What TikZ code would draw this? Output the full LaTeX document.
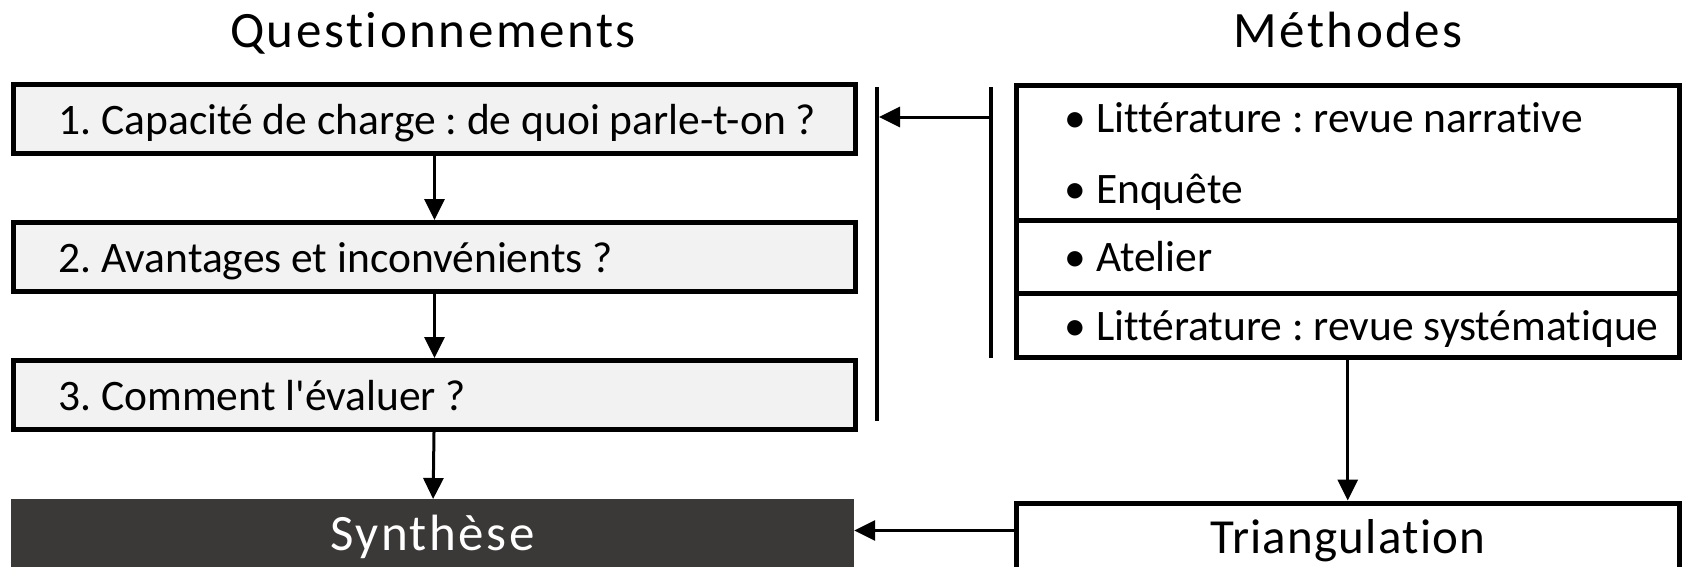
\documentclass[tikz,border=0pt]{standalone}
\usepackage{fontspec}
\setmainfont{Carlito}[Ligatures={NoCommon}]
\newfontfamily\widefont[LetterSpace=5, Ligatures={NoCommon}]{Carlito}
\newfontfamily\trifont[LetterSpace=2.5, Ligatures={NoCommon}]{Carlito}
\usetikzlibrary{arrows.meta}
\frenchspacing
% back to the font's own word spaces inside left-aligned nodes
\newcommand\tightwords{\spaceskip=0pt\xspaceskip=0pt\relax}

\definecolor{qgray}{RGB}{242,242,242}
\definecolor{synthgray}{RGB}{59,56,56}

\tikzset{
	qbox/.style={draw, line width=5pt, fill=qgray, text width=752pt, inner xsep=45pt, minimum height=69pt, align=left, text height=30pt, text depth=0pt, font=\fontsize{43.5}{52}\selectfont, execute at begin node=\tightwords},
	mbox/.style={draw, line width=5pt, text width=566.5pt, inner xsep=48pt, align=left, text height=30pt, text depth=0pt, font=\fontsize{43.5}{71}\selectfont, execute at begin node=\tightwords},
	titletext/.style={font=\widefont\fontsize{51}{60}\selectfont},
	conn/.style={line width=3pt, -{Triangle[length=21pt,width=20pt]}},
	bar/.style={line width=4pt}
}

\begin{document}
\begin{tikzpicture}[x=1pt, y=-1pt]
	\useasboundingbox (0,0) rectangle (1684,566);
	
	% titles
	\node[titletext, anchor=base] (tquest) at (433,47) {Questionnements};
	\node[titletext, anchor=base] (tmeth) at (1348,47) {Méthodes};
	
	% questions
	\node[qbox] (q1) at (434.5,119) {\mbox{1. Capacité de charge : de quoi parle-t-on ?}};
	\node[qbox] (q2) at (434.5,257) {2. Avantages et inconvénients ?};
	\node[qbox] (q3) at (434.5,395) {3. Comment l\textquotesingle évaluer ?};
	\draw[conn] (q1) -- (q2);
	\draw[conn] (q2) -- (q3);
	
	% synthese
	\node[fill=synthgray, text=white, titletext, anchor=north, minimum width=843pt, minimum height=90pt, text height=33pt, text depth=21pt] (synth) at (432.5,499) {Synthèse};
	\draw[conn] (q3) -- (synth);
	
	% methodes
	\node[mbox, minimum width=662.5pt, minimum height=135pt, text depth=71pt] (m1) at (1347.75,152.5) {\mbox{• Littérature : revue narrative}\\\mbox{• Enquête}};
	\node[mbox, minimum height=73pt] (m2) at (1347.75,256.5) {\mbox{• Atelier}};
	\node[mbox, minimum height=64pt] (m3) at (1347.75,325) {\mbox{• Littérature : revue systématique}};
	
	% bars between the two columns
	\draw[bar] (877,87) -- (877,421);
	\draw[bar] (991,87) -- (991,358);
	\coordinate (lbar) at (879,117);
	\coordinate (rbar) at (991,117);
	\draw[conn] (rbar) -- (lbar);
	
	% triangulation
	\node[draw, line width=5pt, anchor=north, minimum width=662.5pt, minimum height=90pt, text height=32pt, text depth=21pt, font=\trifont\fontsize{49}{58}\selectfont] (tri) at (1347.75,500.5) {Triangulation};
	\draw[conn] (m3) -- (tri);
	\draw[conn] ([yshift=-30pt]tri.north west) coordinate (tw) -- (tw -| synth.east);
\end{tikzpicture}
\end{document}
